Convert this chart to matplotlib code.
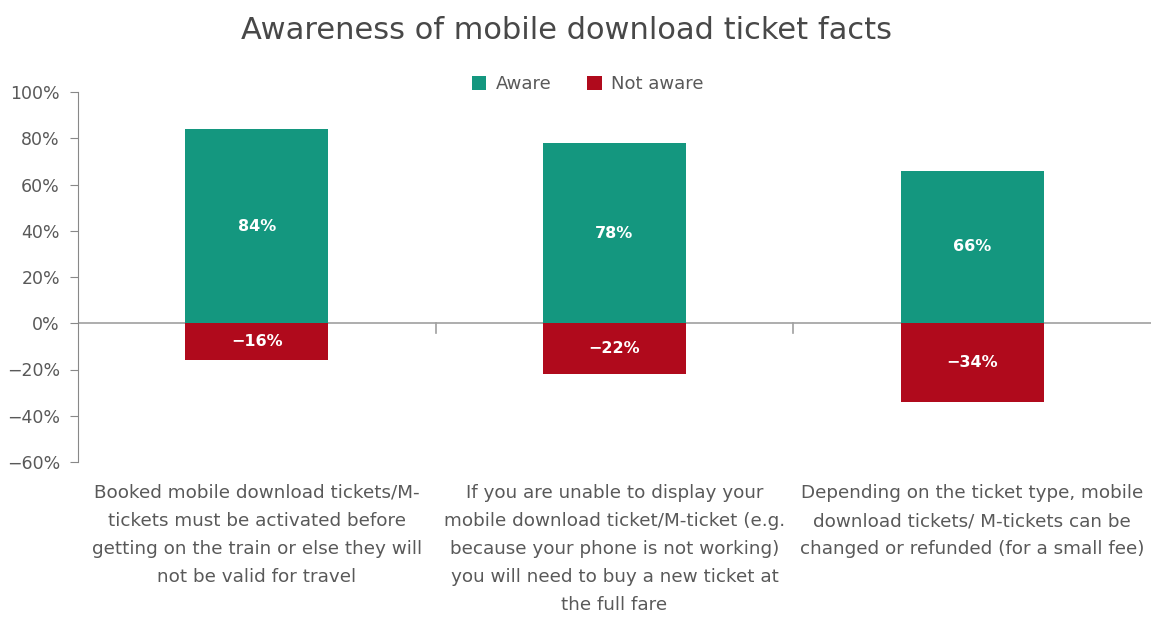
import numpy as np
import matplotlib.pyplot as plt

# datos
categories = [
    "Booked mobile download tickets/M-\ntickets must be activated before\ngetting on the train or else they will\nnot be valid for travel",
    "If you are unable to display your\nmobile download ticket/M-ticket (e.g.\nbecause your phone is not working)\nyou will need to buy a new ticket at\nthe full fare",
    "Depending on the ticket type, mobile\ndownload tickets/ M-tickets can be\nchanged or refunded (for a small fee)",
]
aware = [84, 78, 66]
not_aware = [-16, -22, -34]
yticks = [100, 80, 60, 40, 20, 0, -20, -40, -60]

green = "#14977f"
red = "#b00a1c"
gray = "#595959"

fig = plt.figure(figsize=(11.51, 6.19), dpi=100)
ax = fig.add_axes([78 / 1151, 1 - 462 / 619, 1 - 78 / 1151, 370 / 619])

x = np.arange(len(categories))
ax.bar(x, aware, width=0.4, color=green, label="Aware", zorder=2)
ax.bar(x, not_aware, width=0.4, color=red, label="Not aware", zorder=2)

for i in range(len(x)):
    ax.text(x[i], aware[i] / 2, f"{aware[i]}%", ha="center", va="center",
            color="white", fontsize=11.5, fontweight="bold", zorder=3)
    ax.text(x[i], not_aware[i] / 2, f"\u2212{abs(not_aware[i])}%", ha="center", va="center",
            color="white", fontsize=11.5, fontweight="bold", zorder=3)

ax.set_xlim(-0.5, len(x) - 0.5)
ax.set_ylim(-60, 100)
ax.set_yticks(yticks)
ax.set_yticklabels([f"{v}%".replace("-", "\u2212") for v in yticks], color=gray, fontsize=12.5)
ax.tick_params(axis="y", direction="out", length=6, color="#888888", pad=7)

ax.axhline(0, color="#a0a0a0", lw=1.2, zorder=1)
for b in [0.5, 1.5]:
    ax.plot([b, b], [0, -4], color="#a0a0a0", lw=1.2, clip_on=False, zorder=1)

for s in ["top", "right", "bottom"]:
    ax.spines[s].set_visible(False)
ax.spines["left"].set_color("#888888")
ax.set_xticks([])

for i, c in enumerate(categories):
    ax.text(x[i], -69.5, c, ha="center", va="top", color=gray, fontsize=13.2,
            linespacing=1.72)

ax.legend(loc="upper center", bbox_to_anchor=(0.475, 1.09), ncol=2, frameon=False,
          fontsize=13, handlelength=0.8, handleheight=0.8, columnspacing=2.0,
          labelcolor=gray, handletextpad=0.5)

fig.text(0.492, 0.95, "Awareness of mobile download ticket facts", ha="center", va="center",
         fontsize=22, color="#484848", fontweight="medium")

fig.savefig("out.png", dpi=100)
